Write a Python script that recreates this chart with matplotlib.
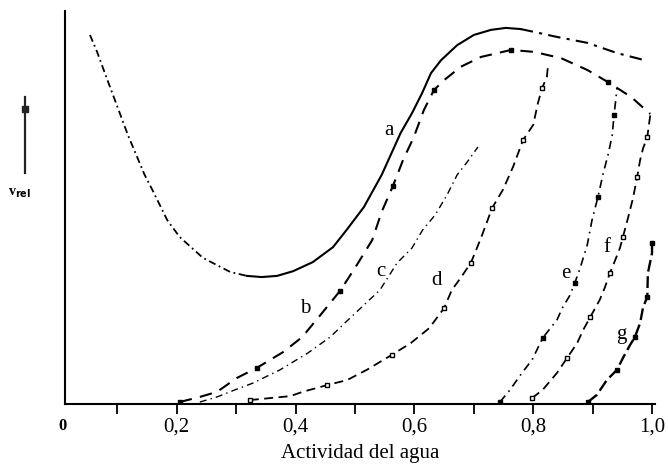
import matplotlib
matplotlib.use('Agg')
import matplotlib.pyplot as plt
from matplotlib.lines import Line2D
import numpy as np

plt.rcParams['font.family'] = ['Liberation Serif', 'DejaVu Serif']

# water activity (x) and relative rate (y)
aw_a = [0.054, 0.066, 0.082, 0.101, 0.118, 0.146, 0.160, 0.184, 0.205, 0.244, 0.290, 0.318,
        0.343, 0.369, 0.396, 0.429, 0.463, 0.487, 0.515, 0.545, 0.577, 0.596, 0.613, 0.628,
        0.645, 0.672, 0.700, 0.729, 0.754, 0.779, 0.801, 0.840, 0.891, 0.941, 0.992]
v_a = [0.939, 0.896, 0.830, 0.753, 0.684, 0.583, 0.542, 0.468, 0.425, 0.372, 0.336, 0.326,
       0.323, 0.326, 0.338, 0.361, 0.399, 0.445, 0.501, 0.583, 0.690, 0.740, 0.791, 0.842,
       0.875, 0.913, 0.939, 0.952, 0.957, 0.954, 0.947, 0.934, 0.919, 0.893, 0.873]

aw_b = [0.205, 0.239, 0.268, 0.301, 0.335, 0.379, 0.411, 0.446, 0.475, 0.500, 0.529, 0.545,
        0.564, 0.581, 0.599, 0.616, 0.633, 0.650, 0.678, 0.712, 0.763, 0.801, 0.847, 0.891,
        0.926, 0.965, 0.997]
v_b = [0.005, 0.018, 0.031, 0.066, 0.092, 0.132, 0.170, 0.234, 0.288, 0.346, 0.417, 0.489,
       0.555, 0.621, 0.679, 0.748, 0.799, 0.824, 0.858, 0.883, 0.901, 0.896, 0.880, 0.850,
       0.819, 0.781, 0.738]

aw_c = [0.239, 0.268, 0.298, 0.328, 0.374, 0.421, 0.458, 0.492, 0.542, 0.571, 0.596, 0.614,
        0.635, 0.655, 0.672, 0.689, 0.707]
v_c = [0.005, 0.018, 0.036, 0.053, 0.087, 0.130, 0.170, 0.219, 0.290, 0.359, 0.397, 0.443,
       0.481, 0.532, 0.583, 0.616, 0.654]

aw_d = [0.323, 0.391, 0.412, 0.453, 0.487, 0.520, 0.562, 0.594, 0.625, 0.650, 0.663, 0.678,
        0.695, 0.704, 0.714, 0.731, 0.749, 0.766, 0.783, 0.800, 0.808, 0.815, 0.823, 0.825]
v_d = [0.010, 0.020, 0.031, 0.048, 0.061, 0.087, 0.125, 0.155, 0.193, 0.244, 0.290, 0.321,
       0.359, 0.392, 0.430, 0.499, 0.545, 0.603, 0.672, 0.710, 0.766, 0.804, 0.832, 0.863]

aw_e = [0.744, 0.761, 0.781, 0.798, 0.816, 0.840, 0.850, 0.862, 0.870, 0.879, 0.891, 0.899,
        0.909, 0.918, 0.926, 0.933, 0.936, 0.939, 0.941]
v_e = [0.005, 0.036, 0.079, 0.112, 0.168, 0.214, 0.247, 0.277, 0.308, 0.346, 0.405, 0.468,
       0.527, 0.588, 0.634, 0.684, 0.735, 0.774, 0.804]

aw_f = [0.798, 0.816, 0.840, 0.857, 0.874, 0.884, 0.896, 0.912, 0.921, 0.929, 0.938, 0.946,
        0.951, 0.960, 0.968, 0.975, 0.980, 0.985, 0.992, 0.997]
v_f = [0.015, 0.036, 0.079, 0.117, 0.155, 0.188, 0.221, 0.265, 0.298, 0.333, 0.366, 0.397,
       0.425, 0.476, 0.524, 0.578, 0.621, 0.651, 0.679, 0.735]

aw_g = [0.892, 0.907, 0.924, 0.941, 0.951, 0.963, 0.971, 0.980, 0.985, 0.992, 0.993, 1.000, 1.000]
v_g = [0.005, 0.023, 0.061, 0.087, 0.117, 0.150, 0.170, 0.206, 0.247, 0.272, 0.333, 0.384, 0.410]

curve_labels = ['a', 'b', 'c', 'd', 'e', 'f', 'g']
label_x = [0.557, 0.416, 0.544, 0.638, 0.855, 0.924, 0.949]
label_y = [0.695, 0.242, 0.336, 0.313, 0.333, 0.397, 0.178]

xticks_major = [0.2, 0.4, 0.6, 0.8, 1.0]
xtick_labels = ['0,2', '0,4', '0,6', '0,8', '1,0']

fig = plt.figure(figsize=(6.68, 4.67), dpi=100)
ax = fig.add_axes([65 / 668, 63 / 467, 590 / 668, 393 / 467])

aw_a = np.array(aw_a)
v_a = np.array(v_a)
left = aw_a <= 0.318
mid = (aw_a >= 0.318) & (aw_a <= 0.779)
right = aw_a >= 0.779
ax.plot(aw_a[left], v_a[left], color='black', lw=1.3, ls=(0, (4, 2, 1, 2)))
ax.plot(aw_a[mid], v_a[mid], color='black', lw=1.5, ls='-')
ax.plot(aw_a[right], v_a[right], color='black', lw=1.5, ls=(0, (6, 3, 1.5, 3)))

ax.plot(aw_b, v_b, color='black', lw=1.5, ls=(0, (6, 4)),
        marker='s', ms=2.5, markevery=4)
ax.plot(aw_c, v_c, color='black', lw=1.0, ls=(0, (5, 3, 1, 3)))
ax.plot(aw_d, v_d, color='black', lw=1.3, ls=(0, (5, 3)),
        marker='s', ms=3, mfc='white', markevery=3)
ax.plot(aw_e, v_e, color='black', lw=1.2, ls=(0, (5, 3, 1, 3)),
        marker='s', ms=3, markevery=4)
ax.plot(aw_f, v_f, color='black', lw=1.3, ls=(0, (5, 3)),
        marker='s', ms=3, mfc='white', markevery=3)
ax.plot(aw_g, v_g, color='black', lw=1.7, ls=(0, (5, 2)),
        marker='s', ms=3.5, markevery=3)

for lab, lx, ly in zip(curve_labels, label_x, label_y):
    ax.text(lx, ly, lab, fontsize=15, ha='center', va='center')

ax.set_xlim(0.012, 1.005)
ax.set_ylim(0, 1)
ax.spines['top'].set_visible(False)
ax.spines['right'].set_visible(False)
ax.spines['left'].set_linewidth(1.5)
ax.spines['bottom'].set_linewidth(1.5)
ax.set_yticks([])
ax.set_xticks(xticks_major)
ax.set_xticklabels(xtick_labels, fontsize=15)
ax.set_xticks([0.1, 0.3, 0.5, 0.7, 0.9], minor=True)
ax.tick_params(axis='x', which='both', direction='out', length=7, width=1.3, pad=3)
ax.text(0.008, -0.035, '0', transform=ax.transData, fontsize=12, fontweight='bold',
        ha='center', va='top')
ax.set_xlabel('Actividad del agua', fontsize=15, labelpad=5)

# y label: upward arrow with a square head, v_rel beneath
fig.add_artist(Line2D([25 / 668, 25 / 668], [294 / 467, 370 / 467],
                      transform=fig.transFigure, color='#222222', lw=1.6))
fig.add_artist(Line2D([25 / 668], [358 / 467], transform=fig.transFigure,
                      color='#222222', marker='s', ms=4.5, ls='none'))
fig.text(20 / 668, (467 - 193) / 467, 'v$_{\\mathbf{rel}}$', fontsize=10,
         fontweight='bold', ha='center', va='center')

fig.savefig('out.png', dpi=100)
